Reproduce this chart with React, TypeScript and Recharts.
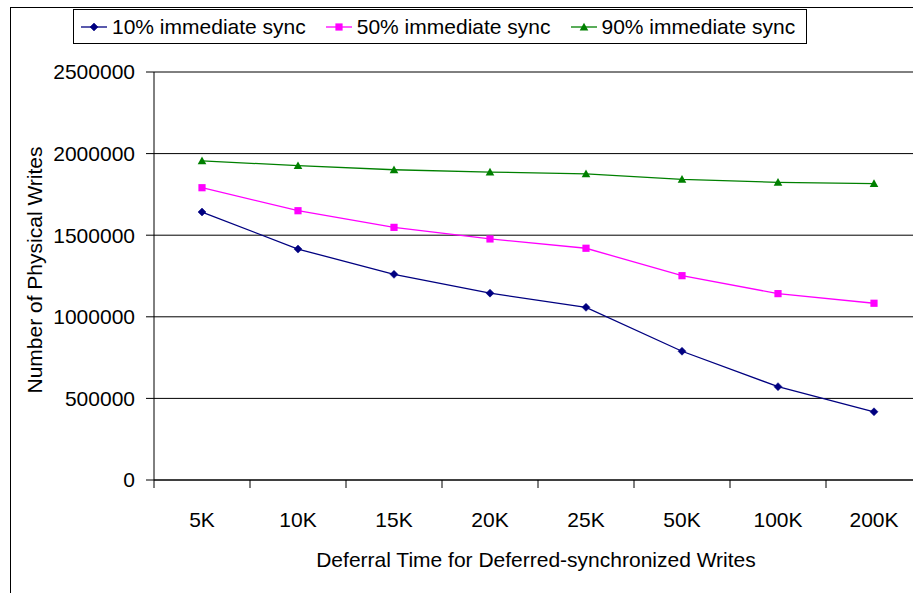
import React from "react";
import {
  LineChart,
  Line,
  XAxis,
  YAxis,
  CartesianGrid,
  Label,
} from "recharts";

// Deferral times on the x axis
const deferralTimes = ["5K", "10K", "15K", "20K", "25K", "50K", "100K", "200K"];

// Number of physical writes per immediate-sync ratio
const sync10 = [1642000, 1415000, 1260000, 1145000, 1058000, 789000, 572000, 418000];
const sync50 = [1791000, 1650000, 1548000, 1477000, 1420000, 1252000, 1142000, 1083000];
const sync90 = [1956000, 1926000, 1901000, 1887000, 1876000, 1842000, 1824000, 1816000];

const yTicks = [0, 500000, 1000000, 1500000, 2000000, 2500000];

const seriesInfo = [
  { key: "s10", name: "10% immediate sync", color: "#000080", shape: "diamond" },
  { key: "s50", name: "50% immediate sync", color: "#FF00FF", shape: "square" },
  { key: "s90", name: "90% immediate sync", color: "#008000", shape: "triangle" },
];

const rows = deferralTimes.map((t, i) => ({
  time: t,
  s10: sync10[i],
  s50: sync50[i],
  s90: sync90[i],
}));

const FONT = "'Liberation Sans', Arial, sans-serif";
const CHART_W = 922;
const CHART_H = 593;
const M_TOP = 72;
const X_AXIS_H = 30;
const M_BOTTOM = 113 - X_AXIS_H;
const Y_W = 154;
const PLOT_BOTTOM = 480;
const BAND = (CHART_W - Y_W) / deferralTimes.length;

function Marker({ shape, color, cx, cy }: { shape: string; color: string; cx: number; cy: number }) {
  if (shape === "diamond") {
    const r = 4;
    return (
      <polygon
        points={`${cx},${cy - r} ${cx + r},${cy} ${cx},${cy + r} ${cx - r},${cy}`}
        fill={color}
        stroke={color}
        strokeWidth={0.5}
      />
    );
  }
  if (shape === "square") {
    const r = 3.6;
    return <rect x={cx - r} y={cy - r} width={2 * r} height={2 * r} fill={color} />;
  }
  const r = 4.3;
  return (
    <polygon
      points={`${cx},${cy - r} ${cx + r},${cy + r * 0.8} ${cx - r},${cy + r * 0.8}`}
      fill={color}
    />
  );
}

function makeDot(shape: string, color: string) {
  return (props: any) => {
    const { cx, cy, index } = props;
    if (cx == null || cy == null) return <g key={`d-${index}`} />;
    return (
      <g key={`d-${shape}-${index}`}>
        <Marker shape={shape} color={color} cx={cx} cy={cy} />
      </g>
    );
  };
}

function CategoryTick(props: any) {
  const { x, payload } = props;
  const edge = x - BAND / 2;
  return (
    <g>
      <line x1={edge} x2={edge} y1={PLOT_BOTTOM} y2={PLOT_BOTTOM + 8} stroke="#000" strokeWidth={1} />
      <text
        x={x}
        y={PLOT_BOTTOM + 47}
        textAnchor="middle"
        fontSize={21}
        fontFamily={FONT}
        fill="#000"
      >
        {payload.value}
      </text>
    </g>
  );
}

function LegendBox() {
  return (
    <div
      style={{
        position: "absolute",
        left: 73,
        top: 9,
        width: 734,
        height: 35,
        boxSizing: "border-box",
        border: "1px solid #000",
        background: "#fff",
        display: "flex",
        alignItems: "center",
        paddingLeft: 7,
        fontFamily: FONT,
        fontSize: 21,
        color: "#000",
        whiteSpace: "nowrap",
      }}
    >
      {seriesInfo.map((s, i) => (
        <div
          key={s.key}
          style={{ display: "flex", alignItems: "center", marginRight: i < seriesInfo.length - 1 ? 20 : 0 }}
        >
          <svg width={26} height={12} style={{ marginRight: 5 }}>
            <line x1={0} x2={26} y1={6} y2={6} stroke={s.color} strokeWidth={1.3} />
            <Marker shape={s.shape} color={s.color} cx={13} cy={6} />
          </svg>
          <span>{s.name}</span>
        </div>
      ))}
    </div>
  );
}

export default function App() {
  return (
    <div
      style={{
        position: "absolute",
        left: 0,
        top: 0,
        width: 913,
        height: 593,
        overflow: "hidden",
        background: "#fff",
      }}
    >
      <div
        style={{
          position: "absolute",
          left: 10,
          top: 7,
          width: 1000,
          height: 700,
          borderLeft: "1px solid #000",
          borderTop: "1px solid #000",
        }}
      />
      <div style={{ position: "absolute", left: 0, top: 0 }}>
        <LineChart
          width={CHART_W}
          height={CHART_H}
          data={rows}
          margin={{ top: M_TOP, right: 0, bottom: M_BOTTOM, left: 0 }}
        >
          <CartesianGrid vertical={false} stroke="#000" strokeWidth={1} />
          <XAxis
            dataKey="time"
            scale="band"
            height={X_AXIS_H}
            axisLine={{ stroke: "#000" }}
            tickLine={false}
            tick={<CategoryTick />}
            tickSize={8}
            interval={0}
          >
            <Label
              content={() => (
                <text
                  x={536}
                  y={567}
                  textAnchor="middle"
                  fontSize={21}
                  fontFamily={FONT}
                  fill="#000"
                >
                  Deferral Time for Deferred-synchronized Writes
                </text>
              )}
            />
          </XAxis>
          <YAxis
            width={Y_W}
            domain={[0, 2500000]}
            ticks={yTicks}
            interval={0}
            axisLine={{ stroke: "#000" }}
            tickLine={{ stroke: "#000" }}
            tickSize={8}
            tickMargin={11}
            tick={{ fontSize: 21, fontFamily: FONT, fill: "#000" }}
          >
            <Label
              content={() => (
                <text
                  x={42}
                  y={270}
                  transform="rotate(-90 42 270)"
                  textAnchor="middle"
                  fontSize={21}
                  fontFamily={FONT}
                  fill="#000"
                >
                  Number of Physical Writes
                </text>
              )}
            />
          </YAxis>
          {seriesInfo.map((s) => (
            <Line
              key={s.key}
              type="linear"
              dataKey={s.key}
              name={s.name}
              stroke={s.color}
              strokeWidth={1.3}
              dot={makeDot(s.shape, s.color)}
              activeDot={false}
              isAnimationActive={false}
            />
          ))}
        </LineChart>
      </div>
      <LegendBox />
    </div>
  );
}
